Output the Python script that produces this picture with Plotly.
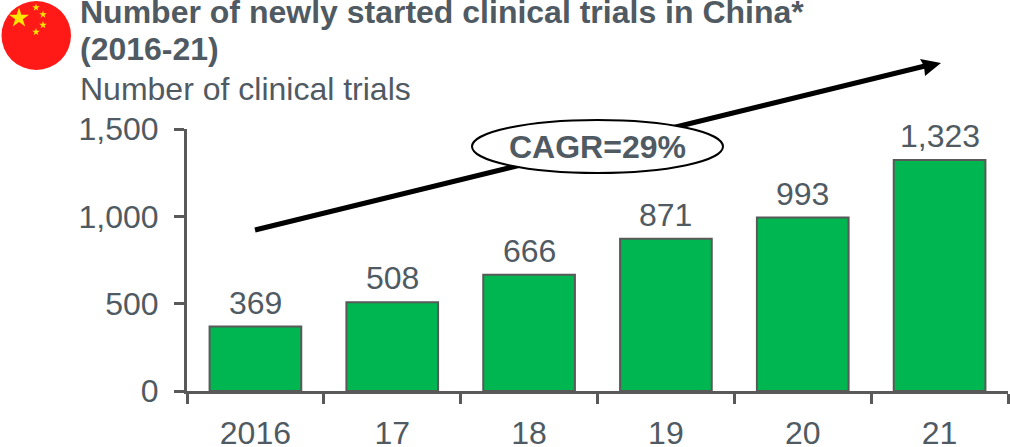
import math
import plotly.graph_objects as go

categories = ["2016", "17", "18", "19", "20", "21"]
trials = [369, 508, 666, 871, 993, 1323]
y_ticks = [0, 500, 1000, 1500]
y_tick_labels = ["0", "500", "1,000", "1,500"]
title_lines = ["Number of newly started clinical trials in China*", "(2016-21)"]
subtitle = "Number of clinical trials"
cagr_label = "CAGR=29%"

W, H = 1010, 447
L, R, T, B = 187, 2, 129, 56
FONT = "Liberation Sans, Arial, sans-serif"
TEXT = "#505A62"
AXIS = "#595959"
SIZE = 32

def px(x):
    return (x - L) / (W - L - R)

def py(y):
    return (H - B - y) / (H - T - B)

def star_path(cx, cy, r):
    pts = []
    for i in range(10):
        a = -math.pi / 2 + i * math.pi / 5
        rad = r if i % 2 == 0 else r * 0.382
        pts.append((px(cx + rad * math.cos(a)), py(cy + rad * math.sin(a))))
    return "M" + " L".join(f"{a:.5f},{b:.5f}" for a, b in pts) + " Z"

def paper_shape(**kw):
    return dict(xref="paper", yref="paper", **kw)

shapes = [
    paper_shape(type="circle", x0=px(1.5), x1=px(71), y0=py(70), y1=py(1), fillcolor="#FF1A17", line_width=0),
    paper_shape(type="path", path=star_path(19, 18, 10.5), fillcolor="#FFE600", line_width=0),
    paper_shape(type="path", path=star_path(36, 7.5, 4), fillcolor="#FFE600", line_width=0),
    paper_shape(type="path", path=star_path(43, 14.5, 4), fillcolor="#FFE600", line_width=0),
    paper_shape(type="path", path=star_path(43, 25, 4), fillcolor="#FFE600", line_width=0),
    paper_shape(type="path", path=star_path(36, 32, 4), fillcolor="#FFE600", line_width=0),
    paper_shape(type="line", x0=px(255), y0=py(230), x1=px(925), y1=py(66), line=dict(color="black", width=5)),
    paper_shape(type="path", fillcolor="black", line_width=0,
                path=f"M{px(941)},{py(63)} L{px(920)},{py(59)} L{px(924)},{py(66)} L{px(925)},{py(76)} Z"),
    paper_shape(type="circle", x0=px(472), x1=px(723), y0=py(173), y1=py(120), fillcolor="white",
                line=dict(color="black", width=2)),
]

annotations = [
    dict(text=title_lines[0], x=px(78), y=py(12), font=dict(size=SIZE, color=TEXT, family=FONT, weight="bold")),
    dict(text=title_lines[1], x=px(78), y=py(49), font=dict(size=SIZE, color=TEXT, family=FONT, weight="bold")),
    dict(text=subtitle, x=px(78), y=py(89), font=dict(size=SIZE, color=TEXT, family=FONT)),
]
for a in annotations:
    a.update(xref="paper", yref="paper", xanchor="left", yanchor="middle", showarrow=False)
annotations.append(dict(text=cagr_label, xref="paper", yref="paper", x=px(597), y=py(147), showarrow=False,
                        xanchor="center", yanchor="middle",
                        font=dict(size=SIZE, color=TEXT, family=FONT, weight="bold")))
for i, v in enumerate(trials):
    annotations.append(dict(text=f"{v:,}", x=i, y=v, xref="x", yref="y", yanchor="bottom", yshift=4,
                            showarrow=False, font=dict(size=SIZE, color=TEXT, family=FONT)))

fig = go.Figure(go.Bar(
    x=categories, y=trials, cliponaxis=False,
    marker=dict(color="#00B650", line=dict(color=AXIS, width=2)),
))
fig.update_layout(
    width=W, height=H, autosize=False,
    margin=dict(l=L, r=R, t=T, b=B, pad=0),
    paper_bgcolor="white", plot_bgcolor="white",
    bargap=0.33, showlegend=False,
    font=dict(family=FONT, color=TEXT),
    shapes=shapes, annotations=annotations,
)
fig.update_xaxes(
    type="category", range=[-0.5, 5.5], tickson="boundaries", ticks="outside", ticklen=10, tickwidth=3, tickcolor=AXIS,
    showline=True, linewidth=3, linecolor=AXIS, showgrid=False, zeroline=False, automargin=False, tickangle=0,
    tickfont=dict(size=SIZE, color=TEXT, family=FONT), ticklabelstandoff=12,
)
fig.update_yaxes(
    range=[0, 1500], tickmode="array", tickvals=y_ticks, ticktext=y_tick_labels,
    ticks="outside", ticklen=10, tickwidth=3, tickcolor=AXIS, automargin=False,
    showline=True, linewidth=3, linecolor=AXIS, showgrid=False, zeroline=False,
    tickfont=dict(size=SIZE, color=TEXT, family=FONT), ticklabelstandoff=9,
)
fig.write_html("out.html", config=dict(displayModeBar=False),
               post_script="document.body.style.margin='0';document.body.style.overflow='hidden';")
